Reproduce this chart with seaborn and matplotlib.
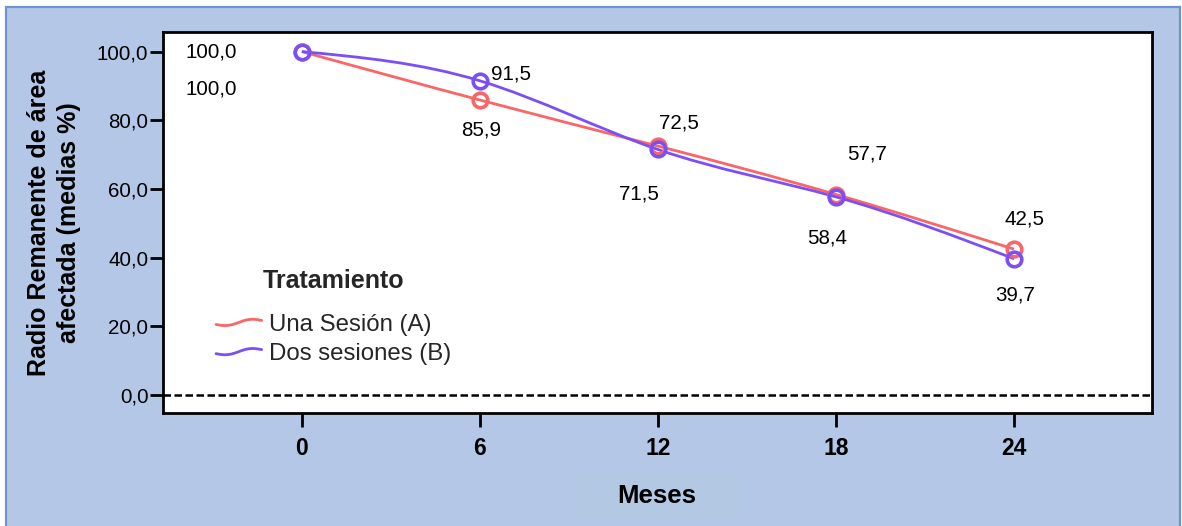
import numpy as np
import pandas as pd
import matplotlib
matplotlib.use("Agg")
import matplotlib.pyplot as plt
from matplotlib.path import Path
from matplotlib.patches import PathPatch, Rectangle
from matplotlib.lines import Line2D
from matplotlib.legend_handler import HandlerBase
from matplotlib.ticker import FuncFormatter
import seaborn as sns

# ---- data -------------------------------------------------------------
meses = [0, 6, 12, 18, 24]
una_sesion = [100.0, 85.9, 72.5, 58.4, 42.5]
dos_sesiones = [100.0, 91.5, 71.5, 57.7, 39.7]
tratamientos = ["Una Sesión (A)", "Dos sesiones (B)"]
y_ticks = [0, 20, 40, 60, 80, 100]

# value-label offsets (pixels, dx right / dy up) from each marker
offs_a = [(-91, -37), (1, -30), (21, 23), (-9, -43), (10, 30)]
offs_b = [(-91, 0), (31, 7), (-19, -45), (31, 43), (1, -36)]

colors = ["#FA6666", "#7B4FF8"]
bg_blue = "#B4C7E7"

df = pd.DataFrame({
    "Meses": meses * 2,
    "Radio": una_sesion + dos_sesiones,
    "Tratamiento": [tratamientos[0]] * len(meses) + [tratamientos[1]] * len(meses),
})

sns.set_theme(style="white")
plt.rcParams["font.family"] = ["Liberation Sans", "DejaVu Sans"]


def spline_path(x, y):
    """Natural cubic spline through the points, as a Bezier path."""
    x = np.asarray(x, float)
    y = np.asarray(y, float)
    n = len(x)
    h = np.diff(x)
    A = np.zeros((n, n))
    r = np.zeros(n)
    A[0, 0] = A[-1, -1] = 1.0
    for i in range(1, n - 1):
        A[i, i - 1] = h[i - 1]
        A[i, i] = 2 * (h[i - 1] + h[i])
        A[i, i + 1] = h[i]
        r[i] = 6 * ((y[i + 1] - y[i]) / h[i] - (y[i] - y[i - 1]) / h[i - 1])
    M = np.linalg.solve(A, r)
    verts = [(x[0], y[0])]
    codes = [Path.MOVETO]
    for i in range(n - 1):
        s = (y[i + 1] - y[i]) / h[i]
        d0 = s - h[i] * (2 * M[i] + M[i + 1]) / 6
        d1 = s + h[i] * (M[i] + 2 * M[i + 1]) / 6
        verts += [(x[i] + h[i] / 3, y[i] + d0 * h[i] / 3),
                  (x[i + 1] - h[i] / 3, y[i + 1] - d1 * h[i] / 3),
                  (x[i + 1], y[i + 1])]
        codes += [Path.CURVE4] * 3
    return Path(verts, codes)


class WaveHandler(HandlerBase):
    """Small wavy line used as legend key."""
    def create_artists(self, legend, orig_handle, xdescent, ydescent,
                       width, height, fontsize, trans):
        t = np.linspace(0, 1, 40)
        xs = -xdescent + width * t
        ys = -ydescent + height / 2 + height * 0.06 * (4 * t - 2 - 2 * np.sin(2 * np.pi * t))
        line = Line2D(xs, ys, color=orig_handle.get_color(),
                      lw=orig_handle.get_linewidth(), solid_capstyle="round")
        line.set_transform(trans)
        return [line]


W, H = 1182, 526
fig = plt.figure(figsize=(W / 100, H / 100), dpi=100)
fig.patch.set_facecolor("white")

# blue frame
fig.add_artist(Rectangle((6 / W, -0.05), (1180 - 6) / W, (H - 7) / H + 0.05,
                         transform=fig.transFigure, facecolor=bg_blue,
                         edgecolor="#6F93CF", lw=1.6, zorder=-10))
# x-label box
fig.add_artist(Rectangle((573 / W, 1 - 520 / H), 169 / W, 48 / H,
                         transform=fig.transFigure, facecolor="#B3C9E3",
                         edgecolor="none", zorder=-9))

ax = fig.add_axes([163 / W, 1 - 413 / H, (1152 - 163) / W, (413 - 32) / H])
ax.set_facecolor("white")

for vals, col in zip([una_sesion, dos_sesiones], colors):
    ax.add_patch(PathPatch(spline_path(meses, vals), facecolor="none",
                           edgecolor=col, lw=2.0, zorder=3))

for name, col in zip(tratamientos, colors):
    sub = df[df["Tratamiento"] == name]
    sns.lineplot(data=sub, x="Meses", y="Radio", ax=ax, color=col,
                 linestyle="", marker="o", markersize=10.5,
                 markerfacecolor="none", markeredgecolor=col,
                 markeredgewidth=2.6, legend=False, zorder=4)

ax.axhline(0, color="black", lw=1.8, ls=(0, (3.0, 1.4)), zorder=2)

# value labels
for vals, offs in zip([una_sesion, dos_sesiones], [offs_a, offs_b]):
    for xm, v, (dx, dy) in zip(meses, vals, offs):
        ax.annotate(f"{v:.1f}".replace(".", ","), (xm, v),
                    xytext=(dx, dy), textcoords="offset pixels",
                    ha="center", va="center", fontsize=14.8, color="black",
                    zorder=5)

ax.set_xlim(-4.68, 28.65)
ax.set_ylim(-5.2, 105.7)
ax.set_xticks(meses)
ax.set_yticks(y_ticks)
ax.yaxis.set_major_formatter(FuncFormatter(lambda v, p: f"{v:.1f}".replace(".", ",")))
ax.tick_params(axis="x", length=10, width=2.0, direction="out", pad=7,
               labelsize=16.5, colors="black", bottom=True)
ax.tick_params(axis="y", length=9.5, width=2.0, direction="out", pad=1,
               labelsize=14.8, colors="black", left=True)
for lab in ax.get_xticklabels():
    lab.set_fontweight("bold")
for sp in ax.spines.values():
    sp.set_visible(True)
    sp.set_color("black")
    sp.set_linewidth(2.0)
ax.set_xlabel("")
ax.set_ylabel("")

fig.text(54 / W, 1 - 222.5 / H, "Radio Remanente de área\nafectada (medias %)",
         rotation=90, ha="center", va="center", multialignment="center",
         fontsize=18, fontweight="bold", color="black", linespacing=1.28)
fig.text(657 / W, 1 - 496 / H, "Meses", ha="center", va="center",
         fontsize=18.5, fontweight="bold", color="black")

handles = [Line2D([], [], color=c, lw=2.0) for c in colors]
leg = ax.legend(handles, tratamientos, title="Tratamiento",
                handler_map={Line2D: WaveHandler()},
                loc="upper left", bbox_to_anchor=(216 / W, 1 - 269 / H),
                bbox_transform=fig.transFigure, frameon=False, borderpad=0,
                borderaxespad=0, handlelength=1.9, handletextpad=0.3,
                labelspacing=0.3, fontsize=17.3)
leg.get_title().set_fontweight("bold")
leg.get_title().set_fontsize(18)
# extra gap between the legend title and its entries
leg._legend_box.sep = 15

fig.savefig("out.png", dpi=100)
